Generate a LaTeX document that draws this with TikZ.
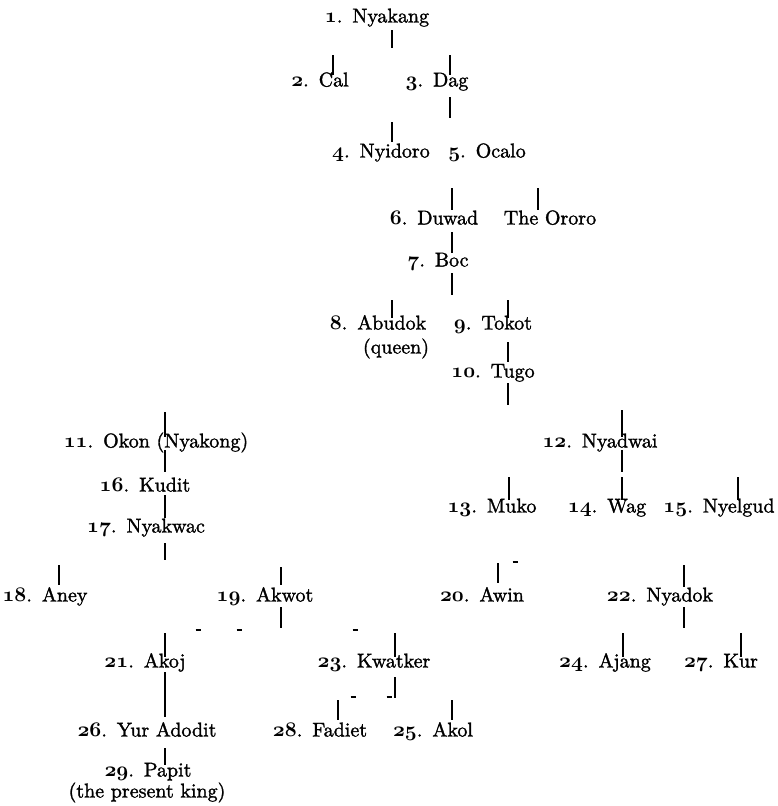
\documentclass[tikz,border=0pt]{standalone}
\usepackage{fontspec}
\setmainfont{lmroman10-regular.otf}[FakeBold=1.5]
\newcommand\osn[1]{{\usefont{OML}{cmm}{b}{it}#1}}
\newcommand\kn[2]{\osn{#1}.\hspace{0.5em}#2}
\begin{document}
\begin{tikzpicture}[x=1pt,y=-1pt,
  lbl/.style={inner sep=0pt,text height=13pt,text depth=4pt,font=\fontsize{20}{22}\selectfont},
  tick/.style={line width=1.6pt},
  bitbar/.style={line width=1.5pt}]
\useasboundingbox (0,0) rectangle (777,806);
% names
\node[lbl] (n1) at (377,18) {\kn{1}{Nyakang}};
\node[lbl] (n2) at (320,82) {\kn{2}{Cal}};
\node[lbl] (n3) at (437,82) {\kn{3}{Dag}};
\node[lbl] (n4) at (381,153) {\kn{4}{Nyidoro}};
\node[lbl] (n5) at (487,153) {\kn{5}{Ocalo}};
\node[lbl] (n6) at (434,220) {\kn{6}{Duwad}};
\node[lbl] (oro) at (550,220) {The Ororo};
\node[lbl] (n7) at (438,262) {\kn{7}{Boc}};
\node[lbl] (n8) at (378,325) {\kn{8}{Abudok}};
\node[lbl] (n8q) at (396,349) {(queen)};
\node[lbl] (n9) at (493,325) {\kn{9}{Tokot}};
\node[lbl] (n10) at (493,373) {\kn{10}{Tugo}};
\node[lbl] (n11) at (156,443) {\kn{11}{Okon (Nyakong)}};
\node[lbl] (n12) at (600,443) {\kn{12}{Nyadwai}};
\node[lbl] (n13) at (492,508) {\kn{13}{Muko}};
\node[lbl] (n14) at (607,508) {\kn{14}{Wag}};
\node[lbl] (n15) at (719,508) {\kn{15}{Nyelgud}};
\node[lbl] (n16) at (145,487) {\kn{16}{Kudit}};
\node[lbl] (n17) at (146,528) {\kn{17}{Nyakwac}};
\node[lbl] (n18) at (45,597) {\kn{18}{Aney}};
\node[lbl] (n19) at (265,597) {\kn{19}{Akwot}};
\node[lbl] (n20) at (482,597) {\kn{20}{Awin}};
\node[lbl] (n22) at (660,597) {\kn{22}{Nyadok}};
\node[lbl] (n21) at (145,663) {\kn{21}{Akoj}};
\node[lbl] (n23) at (374,663) {\kn{23}{Kwatker}};
\node[lbl] (n24) at (605,663) {\kn{24}{Ajang}};
\node[lbl] (n27) at (721,663) {\kn{27}{Kur}};
\node[lbl] (n26) at (147,732) {\kn{26}{Yur Adodit}};
\node[lbl] (n28) at (320,732) {\kn{28}{Fadiet}};
\node[lbl] (n25) at (433,732) {\kn{25}{Akol}};
\node[lbl] (n29) at (148,772) {\kn{29}{Papit}};
\node[lbl] (n29k) at (147,793) {(the present king)};
% ticks
\foreach \x/\a/\b in {
 392/30/48, 333/55/75, 450/55/75, 450/97/118, 392/122/142,
 452/188/210, 538/188/210, 452/232/253, 452/273/295,
 392/300/318, 508/300/318, 508/342/362, 508/383/405,
 165/412/437, 622/410/437, 165/450/472, 622/450/472,
 509/477/500, 622/477/500, 738/477/500,
 165/495/518, 165/543/560,
 59/565/585, 281/567/585, 281/607/628, 498/563/583, 684/565/587, 684/607/628,
 165/633/657, 395/633/657, 623/633/657, 741/633/657,
 165/672/717, 395/677/698, 338/700/720, 452/700/720,
 165/748/765}
  \draw[tick] (\x,\a) -- (\x,\b);
% remnants of faded bars
\foreach \x/\y in {198/630, 239/630, 355/630, 353/697, 389/697, 515/562}
  \draw[bitbar] (\x-2.5,\y) -- (\x+2.5,\y);
\end{tikzpicture}
\end{document}
